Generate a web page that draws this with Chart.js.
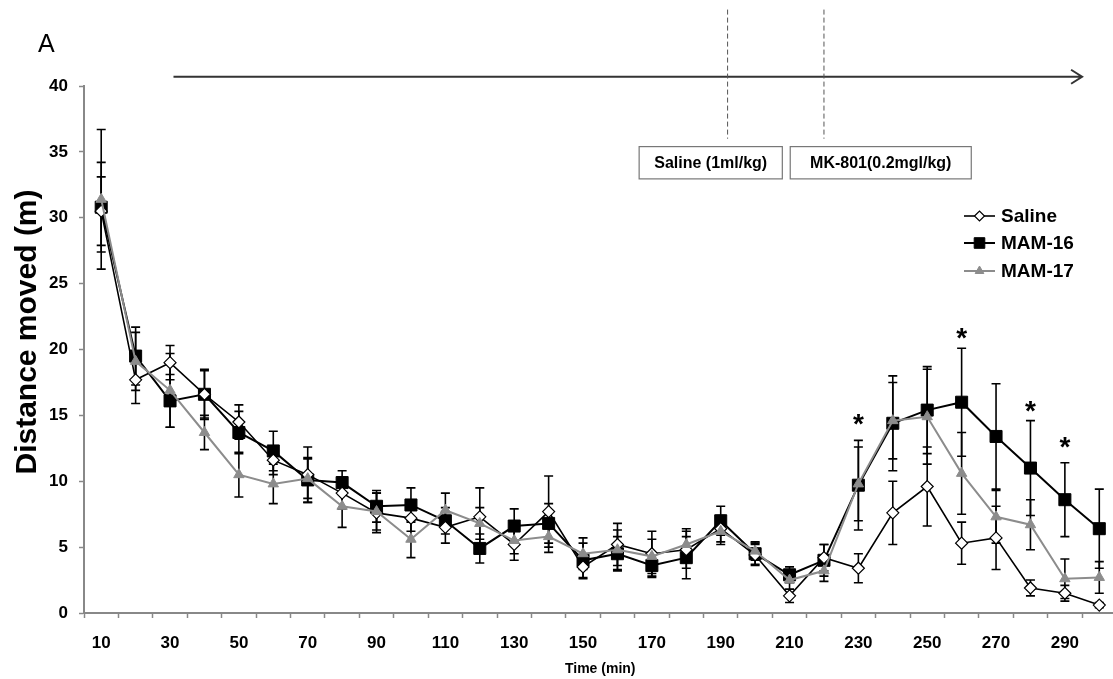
<!DOCTYPE html>
<html>
<head>
<meta charset="utf-8">
<title>Distance moved</title>
<script src="https://cdn.jsdelivr.net/npm/chart.js@4.4.1/dist/chart.umd.min.js"></script>
<style>
  html, body { margin: 0; padding: 0; overflow: hidden; background: #fff; }
  #wrap { position: relative; width: 1126px; height: 679px; }
</style>
</head>
<body>
<div id="wrap"><canvas id="chart" width="1126" height="679"></canvas></div>
<script>
// time points (min)
const times = [10, 20, 30, 40, 50, 60, 70, 80, 90, 100, 110, 120, 130, 140, 150,
  160, 170, 180, 190, 200, 210, 220, 230, 240, 250, 260, 270, 280, 290, 300];

// means and SEM per group (m)
const salineMean = [30.5, 17.7, 19.0, 16.6, 14.5, 11.6, 10.5, 9.1, 7.6, 7.2, 6.5, 7.3, 5.2, 7.7, 3.5,
  5.2, 4.5, 4.8, 6.4, 4.4, 1.3, 4.2, 3.4, 7.6, 9.6, 5.3, 5.7, 1.9, 1.5, 0.6];
const salineErr = [2.6, 1.8, 1.3, 1.8, 1.3, 1.1, 2.1, 1.2, 1.5, 1.0, 1.2, 2.2, 1.2, 2.7, 0.9,
  1.6, 1.7, 1.4, 1.0, 0.8, 0.5, 1.0, 1.1, 2.4, 3.0, 1.6, 2.4, 0.6, 0.6, 0.2];

const mam16Mean = [30.8, 19.5, 16.1, 16.6, 13.7, 12.3, 10.1, 9.9, 8.1, 8.2, 7.0, 4.9, 6.6, 6.8, 4.0,
  4.5, 3.6, 4.2, 7.0, 4.5, 2.9, 4.0, 9.7, 14.4, 15.4, 16.0, 13.4, 11.0, 8.6, 6.4];
const mam16Err = [3.4, 2.2, 2.0, 1.9, 1.6, 1.5, 1.7, 0.9, 1.2, 1.3, 1.0, 1.1, 1.3, 1.5, 1.3,
  1.3, 0.9, 1.6, 1.1, 0.8, 0.6, 1.2, 3.4, 3.6, 3.3, 4.1, 4.0, 3.6, 2.8, 3.0];

const mam17Mean = [31.4, 19.1, 16.9, 13.7, 10.5, 9.8, 10.2, 8.1, 7.7, 5.6, 7.8, 6.8, 5.5, 5.8, 4.5,
  4.8, 4.3, 5.2, 6.2, 4.7, 2.5, 3.2, 9.8, 14.6, 14.9, 10.6, 7.3, 6.7, 2.6, 2.7];
const mam17Err = [5.3, 2.2, 2.8, 1.3, 1.7, 1.5, 1.5, 1.6, 1.4, 1.4, 1.3, 1.2, 1.0, 1.2, 1.2,
  1.5, 1.3, 1.2, 1.0, 0.7, 0.7, 0.8, 2.8, 2.9, 3.6, 3.1, 2.0, 1.9, 1.5, 1.2];

const yTicks = [0, 5, 10, 15, 20, 25, 30, 35, 40];

// significance stars: time point and height (m)
const starTimes = [230, 260, 280, 290];
const starLevels = [14.8, 21.3, 15.8, 13.0];

// injection markers (min) and labels
const injectTimes = [192, 220];
const injectLabels = ["Saline (1ml/kg)", "MK-801(0.2mgl/kg)"];
const injectBoxes = [[166.3, 207.9], [210.2, 262.8]];

const FONT = "'Liberation Sans', Arial, sans-serif";

function xAt(chart, min) {
  const idx = (min - times[0]) / (times[1] - times[0]);
  return chart.scales.x.getPixelForValue(idx);
}

const extras = {
  id: "extras",
  beforeDatasetsDraw(chart) {
    const { ctx } = chart;
    const y = chart.scales.y;
    ctx.save();
    ctx.strokeStyle = "#000";
    ctx.lineWidth = 1.6;
    chart.data.datasets.forEach(ds => {
      ds.data.forEach((v, i) => {
        const px = xAt(chart, times[i]);
        const top = y.getPixelForValue(v + ds.err[i]);
        const bot = y.getPixelForValue(v - ds.err[i]);
        ctx.beginPath();
        ctx.moveTo(px, top); ctx.lineTo(px, bot);
        ctx.moveTo(px - 4.5, top); ctx.lineTo(px + 4.5, top);
        ctx.moveTo(px - 4.5, bot); ctx.lineTo(px + 4.5, bot);
        ctx.stroke();
      });
    });
    ctx.restore();
  },
  afterDraw(chart) {
    const { ctx } = chart;
    const y = chart.scales.y;
    ctx.save();

    // panel letter
    ctx.fillStyle = "#000";
    ctx.font = "25px " + FONT;
    ctx.textBaseline = "middle";
    ctx.textAlign = "left";
    ctx.fillText("A", 38, 45);

    // y axis title
    ctx.save();
    ctx.translate(28, 332);
    ctx.rotate(-Math.PI / 2);
    ctx.textAlign = "center";
    ctx.font = "bold 30px " + FONT;
    ctx.fillText("Distance moved (m)", 0, 0);
    ctx.restore();

    // time arrow
    const ay = y.getPixelForValue(40.7);
    const ax0 = xAt(chart, 31), ax1 = xAt(chart, 295);
    ctx.strokeStyle = "#333";
    ctx.lineWidth = 2;
    ctx.beginPath();
    ctx.moveTo(ax0, ay); ctx.lineTo(ax1, ay);
    ctx.moveTo(ax1 - 11, ay - 7); ctx.lineTo(ax1, ay); ctx.lineTo(ax1 - 11, ay + 7);
    ctx.stroke();

    // injection dashed lines
    ctx.strokeStyle = "#555";
    ctx.lineWidth = 1;
    ctx.setLineDash([5, 3]);
    injectTimes.forEach(t => {
      const px = xAt(chart, t);
      ctx.beginPath();
      ctx.moveTo(px, y.getPixelForValue(45.8));
      ctx.lineTo(px, y.getPixelForValue(36.0));
      ctx.stroke();
    });
    ctx.setLineDash([]);

    // injection boxes
    ctx.font = "bold 16px " + FONT;
    ctx.textAlign = "center";
    injectBoxes.forEach((b, i) => {
      const x0 = xAt(chart, b[0]), x1 = xAt(chart, b[1]);
      const y0 = y.getPixelForValue(35.4), y1 = y.getPixelForValue(32.95);
      ctx.fillStyle = "#fff";
      ctx.fillRect(x0, y0, x1 - x0, y1 - y0);
      ctx.strokeStyle = "#777";
      ctx.lineWidth = 1.2;
      ctx.strokeRect(x0, y0, x1 - x0, y1 - y0);
      ctx.fillStyle = "#000";
      ctx.fillText(injectLabels[i], (x0 + x1) / 2, (y0 + y1) / 2 + 1);
    });

    // significance stars
    ctx.font = "bold 28px " + FONT;
    starTimes.forEach((t, i) => {
      ctx.fillText("*", xAt(chart, t), y.getPixelForValue(starLevels[i]) + 7);
    });

    // legend
    const rows = [216, 243, 271];
    ctx.font = "bold 19px " + FONT;
    ctx.textAlign = "left";
    chart.data.datasets.forEach((ds, i) => {
      const ry = rows[i];
      ctx.strokeStyle = ds.borderColor;
      ctx.lineWidth = ds.borderWidth;
      ctx.beginPath();
      ctx.moveTo(964, ry); ctx.lineTo(995, ry);
      ctx.stroke();
      ctx.fillStyle = ds.pointBackgroundColor;
      ctx.strokeStyle = ds.pointBorderColor;
      ctx.lineWidth = ds.pointBorderWidth;
      Chart.helpers.drawPoint(ctx, {
        pointStyle: ds.pointStyle, radius: ds.legendRadius, rotation: 0, borderWidth: ds.pointBorderWidth
      }, 979.5, ry);
      ctx.fillStyle = "#000";
      ctx.fillText(ds.label, 1001, ry + 1);
    });

    ctx.restore();
  }
};

new Chart(document.getElementById("chart"), {
  type: "line",
  data: {
    labels: times,
    datasets: [
      {
        label: "Saline", data: salineMean, err: salineErr,
        borderColor: "#000", borderWidth: 1.6,
        pointStyle: "rectRot", pointRadius: 6, legendRadius: 5,
        pointBackgroundColor: "#fff", pointBorderColor: "#000", pointBorderWidth: 1.2,
        order: 1
      },
      {
        label: "MAM-16", data: mam16Mean, err: mam16Err,
        borderColor: "#000", borderWidth: 2,
        pointStyle: "rect", pointRadius: 8.5, legendRadius: 7.5,
        pointBackgroundColor: "#000", pointBorderColor: "#000", pointBorderWidth: 1,
        order: 2
      },
      {
        label: "MAM-17", data: mam17Mean, err: mam17Err,
        borderColor: "#8c8c8c", borderWidth: 2,
        pointStyle: "triangle", pointRadius: 6, legendRadius: 5,
        pointBackgroundColor: "#8c8c8c", pointBorderColor: "#8c8c8c", pointBorderWidth: 1,
        order: 0
      }
    ]
  },
  options: {
    responsive: false,
    animation: false,
    layout: { padding: { top: 86, right: 0, bottom: 0, left: 0 } },
    elements: { line: { tension: 0 } },
    plugins: { legend: { display: false }, tooltip: { enabled: false } },
    scales: {
      x: {
        type: "category",
        offset: true,
        grid: { offset: true, drawOnChartArea: false, tickLength: 5, tickColor: "#888", tickWidth: 1.5 },
        border: { color: "#888", width: 2 },
        ticks: {
          autoSkip: false, maxRotation: 0, padding: 15, color: "#000",
          font: { family: FONT, size: 17, weight: "bold" },
          callback(v, i) { return i % 2 === 0 ? this.getLabelForValue(v) : ""; }
        },
        title: {
          display: true, text: "Time (min)", color: "#000",
          font: { family: FONT, size: 14, weight: "bold" },
          padding: { top: 0, bottom: 1 }
        },
        afterFit(s) { s.height = 66; }
      },
      y: {
        min: 0, max: 40,
        afterBuildTicks(s) { s.ticks = yTicks.map(v => ({ value: v })); },
        grid: { drawOnChartArea: false, tickLength: 5, tickColor: "#888", tickWidth: 1.5 },
        border: { color: "#888", width: 2 },
        ticks: { padding: 11, color: "#000", font: { family: FONT, size: 17, weight: "bold" } },
        afterFit(s) { s.width = 84; }
      }
    }
  },
  plugins: [extras]
});
</script>
</body>
</html>
